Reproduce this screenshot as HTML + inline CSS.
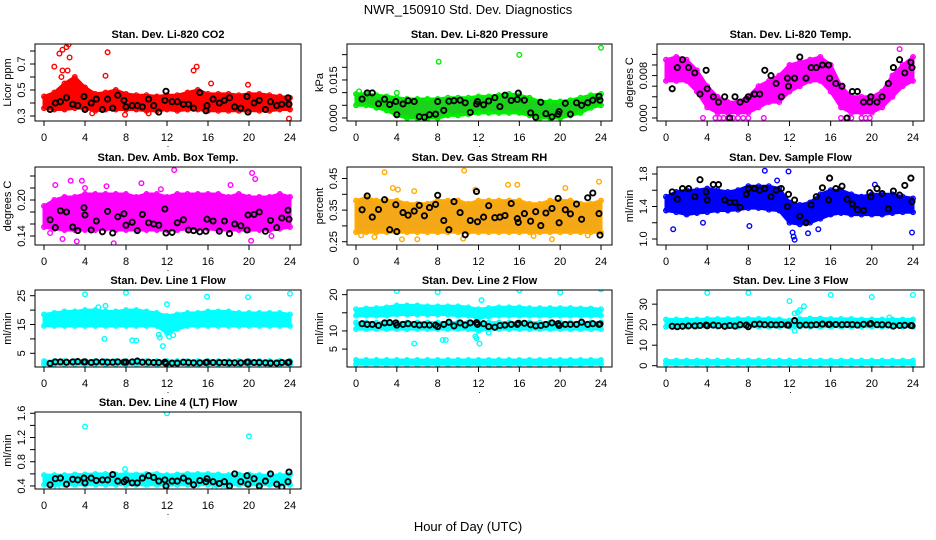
<!DOCTYPE html>
<html><head><meta charset="utf-8"><title>NWR_150910 Std. Dev. Diagnostics</title>
<style>
html,body{margin:0;padding:0;background:#fff;}
svg{display:block;font-family:"Liberation Sans",sans-serif;}
</style></head>
<body>
<svg id="chart" width="936" height="540" viewBox="0 0 936 540" xmlns="http://www.w3.org/2000/svg">
<rect x="0" y="0" width="936" height="540" fill="#fff"/>
<text x="468" y="14" text-anchor="middle" font-size="13">NWR_150910  Std. Dev. Diagnostics</text>
<text x="468" y="531" text-anchor="middle" font-size="13">Hour of Day (UTC)</text>
</svg>
<script>
const hours=[0,1,2,3,4,5,6,7,8,9,10,11,12,13,14,15,16,17,18,19,20,21,22,23,24];
const xTicks=[0,4,8,12,16,20,24];
const blackHours=[0.6,1.1,1.6,2.2,2.8,3.3,3.9,4.0,4.6,5.1,5.7,6.2,6.7,7.2,7.8,8.0,8.6,9.1,9.6,10.2,10.7,11.2,11.8,11.9,12.5,13.0,13.6,14.1,14.6,15.2,15.8,15.9,16.5,17.1,17.6,18.1,18.6,19.2,19.8,19.9,20.5,21.0,21.6,22.1,22.7,23.2,23.8,23.9];

const co2Lo=[0.36,0.35,0.35,0.36,0.36,0.34,0.35,0.35,0.35,0.35,0.34,0.34,0.35,0.34,0.35,0.35,0.34,0.34,0.34,0.34,0.34,0.34,0.34,0.35,0.35];
const co2Hi=[0.45,0.48,0.55,0.60,0.52,0.47,0.48,0.50,0.47,0.46,0.46,0.45,0.46,0.46,0.48,0.50,0.47,0.47,0.47,0.46,0.47,0.47,0.46,0.45,0.44];
const co2Out=[[2.2,0.83],[2.4,0.85],[1.8,0.81],[1.5,0.78],[2.5,0.75],[1.0,0.68],[1.8,0.65],[2.3,0.65],[1.7,0.6],[6.2,0.79],[6.0,0.61],[14.6,0.65],[14.9,0.68],[16.3,0.55],[19.9,0.54],[23.9,0.28],[10.2,0.32],[7.9,0.31],[4.7,0.32]];
const co2Black=[0.35,0.40,0.41,0.44,0.39,0.38,0.45,0.35,0.40,0.43,0.35,0.43,0.36,0.46,0.42,0.37,0.38,0.38,0.37,0.43,0.38,0.33,0.42,0.49,0.41,0.41,0.39,0.39,0.36,0.48,0.34,0.38,0.43,0.40,0.42,0.44,0.37,0.36,0.45,0.33,0.40,0.42,0.35,0.41,0.38,0.39,0.44,0.39];

const presLo=[.005,.005,.004,.003,.001,.000,.000,.000,.000,.001,.001,.0015,.002,.002,.002,.002,.002,.001,.000,.000,.000,.001,.002,.004,.005];
const presHi=[.0095,.0095,.009,.0085,.008,.0075,.0075,.0075,.0075,.008,.008,.008,.0085,.0085,.009,.0095,.009,.008,.0065,.0065,.0065,.007,.008,.009,.0095];
const presOut=[[8.1,0.0222],[16.0,0.0249],[24.0,0.0277],[4.0,0.0099],[0.3,0.0105]];
const presBlack=[.0075,.0099,.0099,.0056,.0074,.0053,.0065,.0013,.0055,.0068,.0065,.0005,.0003,.0013,.0015,.0065,.003,.0066,.0068,.0070,.0060,.0022,.0055,.0065,.0052,.0067,.0080,.0045,.0090,.0069,.0073,.0098,.0070,.0020,.0003,.0062,.0017,.0004,.0015,.0025,.0058,.0015,.0060,.0050,.0060,.0070,.0085,.0070];

const tempLo=[.007,.007,.007,.005,.002,.001,.001,.001,.001,.002,.003,.003,.005,.006,.007,.007,.005,.002,.001,.001,.001,.002,.004,.006,.007];
const tempHi=[.011,.0115,.011,.009,.006,.004,.003,.003,.004,.006,.007,.008,.010,.0105,.011,.0115,.010,.006,.004,.004,.004,.005,.008,.010,.0115];
const tempOut=[[3.6,0],[4.8,0],[5.2,0],[5.6,0],[6.0,0],[6.5,0],[7.0,0],[7.5,0],[8.0,0],[9.5,0],[17.0,0],[17.5,0],[18.0,0],[19.0,0],[19.4,0],[19.8,0],[22.7,0.013]];
const tempBlack=[.0055,.0095,.011,.0095,.0085,.0045,.009,.0055,.004,.003,.004,0,.004,.003,.0035,.004,.0045,.0045,.009,.008,.0065,.004,.0075,.006,.0075,.0115,.0075,.0095,.0095,.0100,.010,.0075,.0065,.006,0,.005,.005,.003,.003,.004,.003,.004,.0065,.0095,.011,.0085,.0105,.0095];

const ambLo=[.155,.152,.150,.150,.150,.150,.152,.150,.150,.150,.150,.150,.150,.150,.152,.152,.152,.150,.150,.150,.150,.150,.150,.152,.155];
const ambHi=[.19,.20,.205,.205,.21,.21,.21,.21,.21,.205,.21,.21,.205,.21,.21,.21,.21,.21,.205,.21,.205,.205,.205,.21,.205];
const ambOut=[[2.6,0.232],[3.7,0.232],[6.8,0.128],[3.2,0.131],[12.7,0.25],[20.3,0.245],[20.6,0.235],[9.5,0.228],[1.1,0.225],[6.1,0.223],[18.2,0.225],[0.6,0.145],[1.8,0.135],[20.2,0.132],[22.2,0.14],[4.0,0.22],[11.4,0.218]];
const ambBlack=[.167,.154,.182,.180,.155,.149,.187,.175,.150,.165,.147,.181,.145,.172,.177,.158,.163,.149,.176,.162,.160,.158,.185,.145,.146,.162,.167,.150,.149,.147,.148,.168,.165,.148,.165,.144,.160,.157,.150,.175,.176,.180,.148,.166,.154,.170,.183,.168];

const rhLo=[.28,.28,.28,.28,.28,.28,.28,.28,.28,.28,.28,.28,.28,.28,.28,.28,.28,.28,.28,.28,.28,.28,.28,.28,.28];
const rhHi=[.38,.39,.38,.38,.38,.37,.37,.37,.38,.38,.38,.37,.38,.38,.38,.38,.38,.37,.37,.38,.38,.38,.37,.37,.38];
const rhOut=[[2.8,0.47],[10.6,0.475],[3.6,0.42],[4.1,0.415],[5.7,0.41],[11.7,0.415],[14.9,0.43],[15.8,0.43],[20.5,0.42],[23.8,0.44],[0.5,0.27],[1.8,0.265],[4.5,0.258],[6.0,0.258],[10.5,0.26],[19.2,0.258],[22.7,0.27],[17.4,0.268]];
const rhBlack=[.351,.395,.328,.352,.383,.288,.367,.282,.342,.334,.347,.365,.332,.358,.368,.397,.317,.288,.377,.342,.272,.317,.409,.313,.328,.364,.326,.328,.333,.371,.323,.311,.339,.315,.345,.301,.341,.355,.387,.310,.351,.338,.369,.321,.389,.404,.339,.271];

const flowLo=[1.35,1.33,1.3,1.32,1.33,1.35,1.35,1.36,1.38,1.38,1.36,1.35,1.2,1.18,1.2,1.25,1.3,1.32,1.3,1.3,1.3,1.3,1.32,1.33,1.33];
const flowHi=[1.52,1.58,1.6,1.6,1.62,1.6,1.58,1.6,1.65,1.65,1.65,1.62,1.45,1.42,1.45,1.55,1.6,1.6,1.55,1.52,1.55,1.55,1.55,1.52,1.5];
const flowOut=[[0.7,1.12],[9.6,1.84],[11.9,1.83],[12.4,1.03],[12.5,0.99],[12.3,1.08],[13.8,1.07],[14.8,1.12],[23.9,1.08],[3.6,1.2],[8.1,1.16],[10.8,1.72],[20.3,1.67]];
const flowBlack=[1.58,1.49,1.62,1.62,1.52,1.73,1.58,1.48,1.67,1.67,1.48,1.45,1.45,1.39,1.55,1.62,1.62,1.60,1.62,1.52,1.60,1.62,1.40,1.55,1.48,1.28,1.20,1.42,1.52,1.63,1.48,1.75,1.62,1.65,1.49,1.43,1.36,1.35,1.57,1.52,1.62,1.56,1.37,1.59,1.54,1.66,1.75,1.46];

const l1Lo=[14.5,14.5,14.5,14.5,14.5,14.5,14.5,14.5,14.5,14.5,14.5,14.5,12.0,13.5,14.5,14.5,14.5,14.5,14.5,14.5,14.5,14.5,14.5,14.5,14.5];
const l1Hi=[18.5,19.0,19.5,19.5,20.0,20.0,19.5,19.5,20.0,20.0,19.5,19.0,18.0,18.5,19.0,19.0,19.5,19.5,19.5,19.0,19.0,19.0,19.0,19.0,18.5];
const l1BotLo=[1.2,1.2,1.2,1.2,1.2,1.2,1.2,1.2,1.2,1.2,1.2,1.2,1.2,1.2,1.2,1.2,1.2,1.2,1.2,1.2,1.2,1.2,1.2,1.2,1.2];
const l1BotHi=[2.3,2.3,2.3,2.3,2.3,2.3,2.3,2.3,2.3,2.3,2.3,2.3,2.3,2.3,2.3,2.3,2.3,2.3,2.3,2.3,2.3,2.3,2.3,2.3,2.3];
const l1Out=[[4.0,25.5],[8.0,26],[15.9,24.7],[19.9,24.5],[24.0,25.7],[5.9,10],[8.6,9.5],[9.0,9.4],[11.2,11.5],[11.3,10.5],[11.6,7.5],[12.2,10.8],[12.0,22],[6.0,21.5],[5.3,21],[12.6,11.3]];
const l1Black=[1.5,2.0,2.0,1.9,2.0,2.1,2.0,2.0,1.8,2.0,2.0,1.9,1.9,2.0,1.9,1.9,2.0,2.3,1.9,1.9,1.8,1.8,1.9,1.5,1.6,1.6,1.9,1.8,1.7,1.7,1.8,1.9,1.8,1.8,1.8,1.7,1.7,1.7,1.9,1.9,1.8,1.8,1.7,1.6,1.6,1.8,1.8,1.9];

const l2Lo=[14.2,14.2,14.2,14.2,14.5,14.5,14.5,14.5,14.5,14.5,14.2,14.2,13.5,14.0,14.2,14.2,14.2,14.2,14.2,14.2,14.2,14.2,14.2,14.2,14.2];
const l2Hi=[16.0,16.2,16.3,16.5,17.0,17.0,17.0,16.8,16.8,16.8,16.8,16.5,16.0,16.3,16.5,16.5,16.5,16.3,16.3,16.3,16.3,16.3,16.2,16.2,16.0];
const l2MidLo=[10.5,10.5,10.5,10.5,10.5,10.5,10.5,10.5,10.5,10.5,10.5,10.5,10.0,10.5,10.5,10.5,10.5,10.5,10.5,10.5,10.5,10.5,10.5,10.5,10.5];
const l2MidHi=[12.3,12.3,12.3,12.3,12.3,12.3,12.3,12.3,12.3,12.3,12.3,12.3,12.3,12.3,12.3,12.3,12.3,12.3,12.3,12.3,12.3,12.3,12.3,12.3,12.3];
const l2BotLo=[0.8,0.8,0.8,0.8,0.8,0.8,0.8,0.8,0.8,0.8,0.8,0.8,0.8,0.8,0.8,0.8,0.8,0.8,0.8,0.8,0.8,0.8,0.8,0.8,0.8];
const l2BotHi=[2.0,2.0,2.0,2.0,2.0,2.0,2.0,2.0,2.0,2.0,2.0,2.0,2.0,2.0,2.0,2.0,2.0,2.0,2.0,2.0,2.0,2.0,2.0,2.0,2.0];
const l2Out=[[4.0,21],[8.0,20.7],[16.0,21.2],[20.0,20.6],[24.0,21.5],[5.7,6.5],[8.5,7.5],[8.8,7.5],[11.7,8.5],[11.8,8],[12.1,6.5],[12.3,18.5],[13.0,9.5],[11.9,13.5]];
const l2Black=[12.0,11.8,11.8,11.5,12.2,12.3,12.2,11.6,11.8,12.0,11.8,11.6,11.7,11.6,11.6,11.2,11.8,12.4,11.4,12.2,11.6,12.2,12.3,11.8,12.0,11.2,11.0,11.5,11.6,11.8,11.8,12.1,12.1,11.7,11.4,11.5,11.8,12.2,12.0,11.5,11.8,11.8,11.8,12.4,11.8,12.0,11.8,11.9];

const l3Lo=[19.0,19.0,19.0,19.0,19.0,19.0,19.0,19.0,19.0,19.0,19.0,19.0,19.0,19.0,19.0,19.0,19.0,19.0,19.0,19.0,19.0,19.0,19.0,19.0,19.0];
const l3Hi=[22.5,22.5,22.5,22.5,22.8,22.8,22.8,22.8,22.8,22.8,22.8,22.5,22.0,22.8,23.0,23.0,22.8,22.8,22.8,22.5,22.5,22.5,22.5,22.5,22.5];
const l3BotLo=[0.8,0.8,0.8,0.8,0.8,0.8,0.8,0.8,0.8,0.8,0.8,0.8,0.8,0.8,0.8,0.8,0.8,0.8,0.8,0.8,0.8,0.8,0.8,0.8,0.8];
const l3BotHi=[2.5,2.5,2.5,2.5,2.5,2.5,2.5,2.5,2.5,2.5,2.5,2.5,2.5,2.5,2.5,2.5,2.5,2.5,2.5,2.5,2.5,2.5,2.5,2.5,2.5];
const l3Out=[[4,35.5],[8,35.5],[16,34.5],[20,33.5],[24,34.5],[12,31.5],[12.5,25.5],[13.0,27],[13.4,29],[12.8,26],[12.5,17],[21.7,23.5]];
const l3Black=[19.2,19.0,19.2,19.4,19.4,19.6,19.8,19.5,19.8,19.5,19.2,19.6,19.3,20.0,19.8,19.0,20.2,20.3,20.0,20.0,19.9,20.1,19.8,19.8,22.0,19.7,19.9,19.8,20.0,20.3,20.1,20.2,20.1,20.0,20.1,20.1,19.8,20.2,20.3,20.5,20.0,20.0,19.9,19.3,19.6,19.7,19.6,19.5];

const l4Lo=[0.42,0.42,0.42,0.42,0.42,0.42,0.42,0.42,0.42,0.42,0.42,0.42,0.41,0.42,0.42,0.42,0.42,0.42,0.42,0.42,0.42,0.42,0.42,0.42,0.42];
const l4Hi=[0.58,0.58,0.58,0.59,0.59,0.60,0.60,0.59,0.60,0.59,0.60,0.60,0.58,0.59,0.60,0.60,0.60,0.59,0.58,0.59,0.59,0.58,0.58,0.58,0.59];
const l4Out=[[4,1.38],[12,1.6],[20,1.22],[7.9,0.68],[1.3,0.36],[16.6,0.35],[17.5,0.35]];
const l4Black=[0.42,0.52,0.53,0.43,0.51,0.50,0.53,0.45,0.53,0.49,0.50,0.50,0.59,0.48,0.47,0.50,0.45,0.45,0.53,0.57,0.54,0.48,0.50,0.40,0.48,0.48,0.53,0.48,0.42,0.49,0.47,0.52,0.47,0.44,0.47,0.40,0.60,0.47,0.57,0.43,0.52,0.40,0.48,0.60,0.43,0.38,0.47,0.63];

const co2Ticks=[0.3,0.4,0.5,0.6,0.7,0.8], co2Labels=["0.3","","0.5","","0.7",""];
const presTicks=[0,0.005,0.01,0.015,0.02,0.025], presLabels=["0.000","","","0.015","",""];
const tempTicks=[0,0.002,0.004,0.006,0.008,0.01,0.012], tempLabels=["0.000","","","","0.008","",""];
const ambTicks=[0.14,0.16,0.18,0.20,0.22,0.24], ambLabels=["0.14","","","0.20","",""];
const rhTicks=[0.25,0.30,0.35,0.40,0.45], rhLabels=["0.25","","0.35","","0.45"];
const flowTicks=[1.0,1.2,1.4,1.6,1.8], flowLabels=["1.0","","1.4","","1.8"];
const l1Ticks=[5,10,15,20,25], l1Labels=["5","","15","","25"];
const l2Ticks=[5,10,15,20], l2Labels=["5","10","","20"];
const l3Ticks=[0,10,20,30], l3Labels=["0","10","20","30"];
const l4Ticks=[0.4,0.6,0.8,1.0,1.2,1.4,1.6], l4Labels=["0.4","","0.8","","1.2","","1.6"];

const cols=[[35,301],[347,612],[657,924]];
const rows=[[44,121],[167,245],[290,367],[412,489]];

const panels=[
 {id:"co2",title:"Stan. Dev. Li-820 CO2",ylab:"Licor ppm",c:0,r:0,ymin:0.2615,ymax:0.854,ticks:co2Ticks,labels:co2Labels,color:"#ff0000",fill:"#ff0000",bands:[[co2Lo,co2Hi]],out:co2Out,black:co2Black},
 {id:"pressure",title:"Stan. Dev. Li-820 Pressure",ylab:"kPa",c:1,r:0,ymin:-0.0012,ymax:0.0292,ticks:presTicks,labels:presLabels,color:"#00ee00",fill:"#1ed01e",bands:[[presLo,presHi]],out:presOut,black:presBlack},
 {id:"temp",title:"Stan. Dev. Li-820 Temp.",ylab:"degrees C",c:2,r:0,ymin:-0.00057,ymax:0.01396,ticks:tempTicks,labels:tempLabels,color:"#ff00ff",fill:"#ff00ff",bands:[[tempLo,tempHi]],out:tempOut,black:tempBlack},
 {id:"amb-box-temp",title:"Stan. Dev. Amb. Box Temp.",ylab:"degrees C",c:0,r:1,ymin:0.125,ymax:0.255,ticks:ambTicks,labels:ambLabels,color:"#ff00ff",fill:"#ff00ff",bands:[[ambLo,ambHi]],out:ambOut,black:ambBlack},
 {id:"gas-rh",title:"Stan. Dev. Gas Stream RH",ylab:"percent",c:1,r:1,ymin:0.2396,ymax:0.4864,ticks:rhTicks,labels:rhLabels,color:"#ffaa00",fill:"#f4a818",bands:[[rhLo,rhHi]],out:rhOut,black:rhBlack},
 {id:"sample-flow",title:"Stan. Dev. Sample Flow",ylab:"ml/min",c:2,r:1,ymin:0.926,ymax:1.886,ticks:flowTicks,labels:flowLabels,color:"#0000ff",fill:"#0000ff",bands:[[flowLo,flowHi]],out:flowOut,black:flowBlack},
 {id:"line1-flow",title:"Stan. Dev. Line 1 Flow",ylab:"ml/min",c:0,r:2,ymin:0.24,ymax:26.98,ticks:l1Ticks,labels:l1Labels,color:"#00ffff",fill:"#00ffff",bands:[[l1Lo,l1Hi],[l1BotLo,l1BotHi]],out:l1Out,black:l1Black},
 {id:"line2-flow",title:"Stan. Dev. Line 2 Flow",ylab:"ml/min",c:1,r:2,ymin:0.06,ymax:21.28,ticks:l2Ticks,labels:l2Labels,color:"#00ffff",fill:"#00ffff",bands:[[l2Lo,l2Hi],[l2MidLo,l2MidHi],[l2BotLo,l2BotHi]],out:l2Out,black:l2Black},
 {id:"line3-flow",title:"Stan. Dev. Line 3 Flow",ylab:"ml/min",c:2,r:2,ymin:-0.63,ymax:36.9,ticks:l3Ticks,labels:l3Labels,color:"#00ffff",fill:"#00ffff",bands:[[l3Lo,l3Hi],[l3BotLo,l3BotHi]],out:l3Out,black:l3Black},
 {id:"line4-flow",title:"Stan. Dev. Line 4 (LT) Flow",ylab:"ml/min",c:0,r:3,ymin:0.35,ymax:1.621,ticks:l4Ticks,labels:l4Labels,color:"#00ffff",fill:"#00ffff",bands:[[l4Lo,l4Hi]],out:l4Out,black:l4Black}
];

const NS="http://www.w3.org/2000/svg";
const svg=document.getElementById("chart");
function mk(tag,attrs,parent){const e=document.createElementNS(NS,tag);for(const k in attrs)e.setAttribute(k,attrs[k]);parent.appendChild(e);return e;}

panels.forEach(p=>{
  const L=cols[p.c][0],R=cols[p.c][1],T=rows[p.r][0],B=rows[p.r][1];
  const x0=L+9,x1=R-11;
  const xs=t=>x0+(t/24)*(x1-x0);
  const ys=v=>B-(v-p.ymin)/(p.ymax-p.ymin)*(B-T);
  const g=mk("g",{},svg);
  
  
  const clipId="clip-"+p.id;
  const cp=mk("clipPath",{id:clipId},g);
  mk("rect",{x:L,y:T,width:R-L,height:B-T},cp);
  const plot=mk("g",{"clip-path":"url(#"+clipId+")"},g);
  
  
  function circ(t,v,stroke,name,r,sw){
    const c=mk("circle",{cx:xs(t).toFixed(1),cy:ys(v).toFixed(1),r:r,fill:"none",stroke:stroke,"stroke-width":sw},plot);
    
    
  }
  p.bands.forEach((b,bi)=>{
    const lo=b[0],hi=b[1];
    let pts=[];
    hours.forEach((h,i)=>pts.push(xs(h).toFixed(1)+","+ys(hi[i]).toFixed(1)));
    for(let i=hours.length-1;i>=0;i--)pts.push(xs(hours[i]).toFixed(1)+","+ys(lo[i]).toFixed(1));
    const poly=mk("polygon",{points:pts.join(" "),fill:p.fill,stroke:p.color,"stroke-width":3,"stroke-linejoin":"round"},plot);
    
    
    hours.forEach((h,i)=>{
      circ(h,hi[i],p.color,p.id+'-point',2.3,1.3);
      circ(h,lo[i],p.color,p.id+'-point',2.3,1.3);
    });
  });
  p.out.forEach(o=>circ(o[0],o[1],p.color,p.id+'-outlier',2.3,1.4));
  p.black.forEach((v,i)=>circ(blackHours[i],v,"#000",p.id+'-hourly-point',2.6,1.9));
  const box=mk("rect",{x:L,y:T,width:R-L,height:B-T,fill:"none",stroke:"#000","stroke-width":1},g);
  
  
  const tt=mk("text",{x:(L+R)/2,y:T-6,"text-anchor":"middle","font-size":11,"font-weight":"bold"},g);
  tt.textContent=p.title;
  
  
  xTicks.forEach(t=>{
    const ln=mk("line",{x1:xs(t),x2:xs(t),y1:B,y2:B+5,stroke:"#000","stroke-width":1},g);
    
    
    const tx=mk("text",{x:xs(t),y:B+20,"text-anchor":"middle","font-size":11},g);
    tx.textContent=String(t);
    
    
  });
  const dot=mk("text",{x:(L+R)/2,y:B+26,"text-anchor":"middle","font-size":9},g);
  dot.textContent=".";
  
  
  p.ticks.forEach((v,i)=>{
    const y=ys(v);
    const ln=mk("line",{x1:L-5,x2:L,y1:y,y2:y,stroke:"#000","stroke-width":1},g);
    
    
    if(p.labels[i]){
      const tx=mk("text",{x:0,y:0,"text-anchor":"middle","font-size":11,transform:"translate("+(L-10)+","+y.toFixed(1)+") rotate(-90)"},g);
      tx.textContent=p.labels[i];
      
      
    }
  });
  const yt=mk("text",{x:0,y:0,"text-anchor":"middle","font-size":11,transform:"translate("+(L-24)+","+((T+B)/2)+") rotate(-90)"},g);
  yt.textContent=p.ylab;
  
  
});
</script>
</body></html>
